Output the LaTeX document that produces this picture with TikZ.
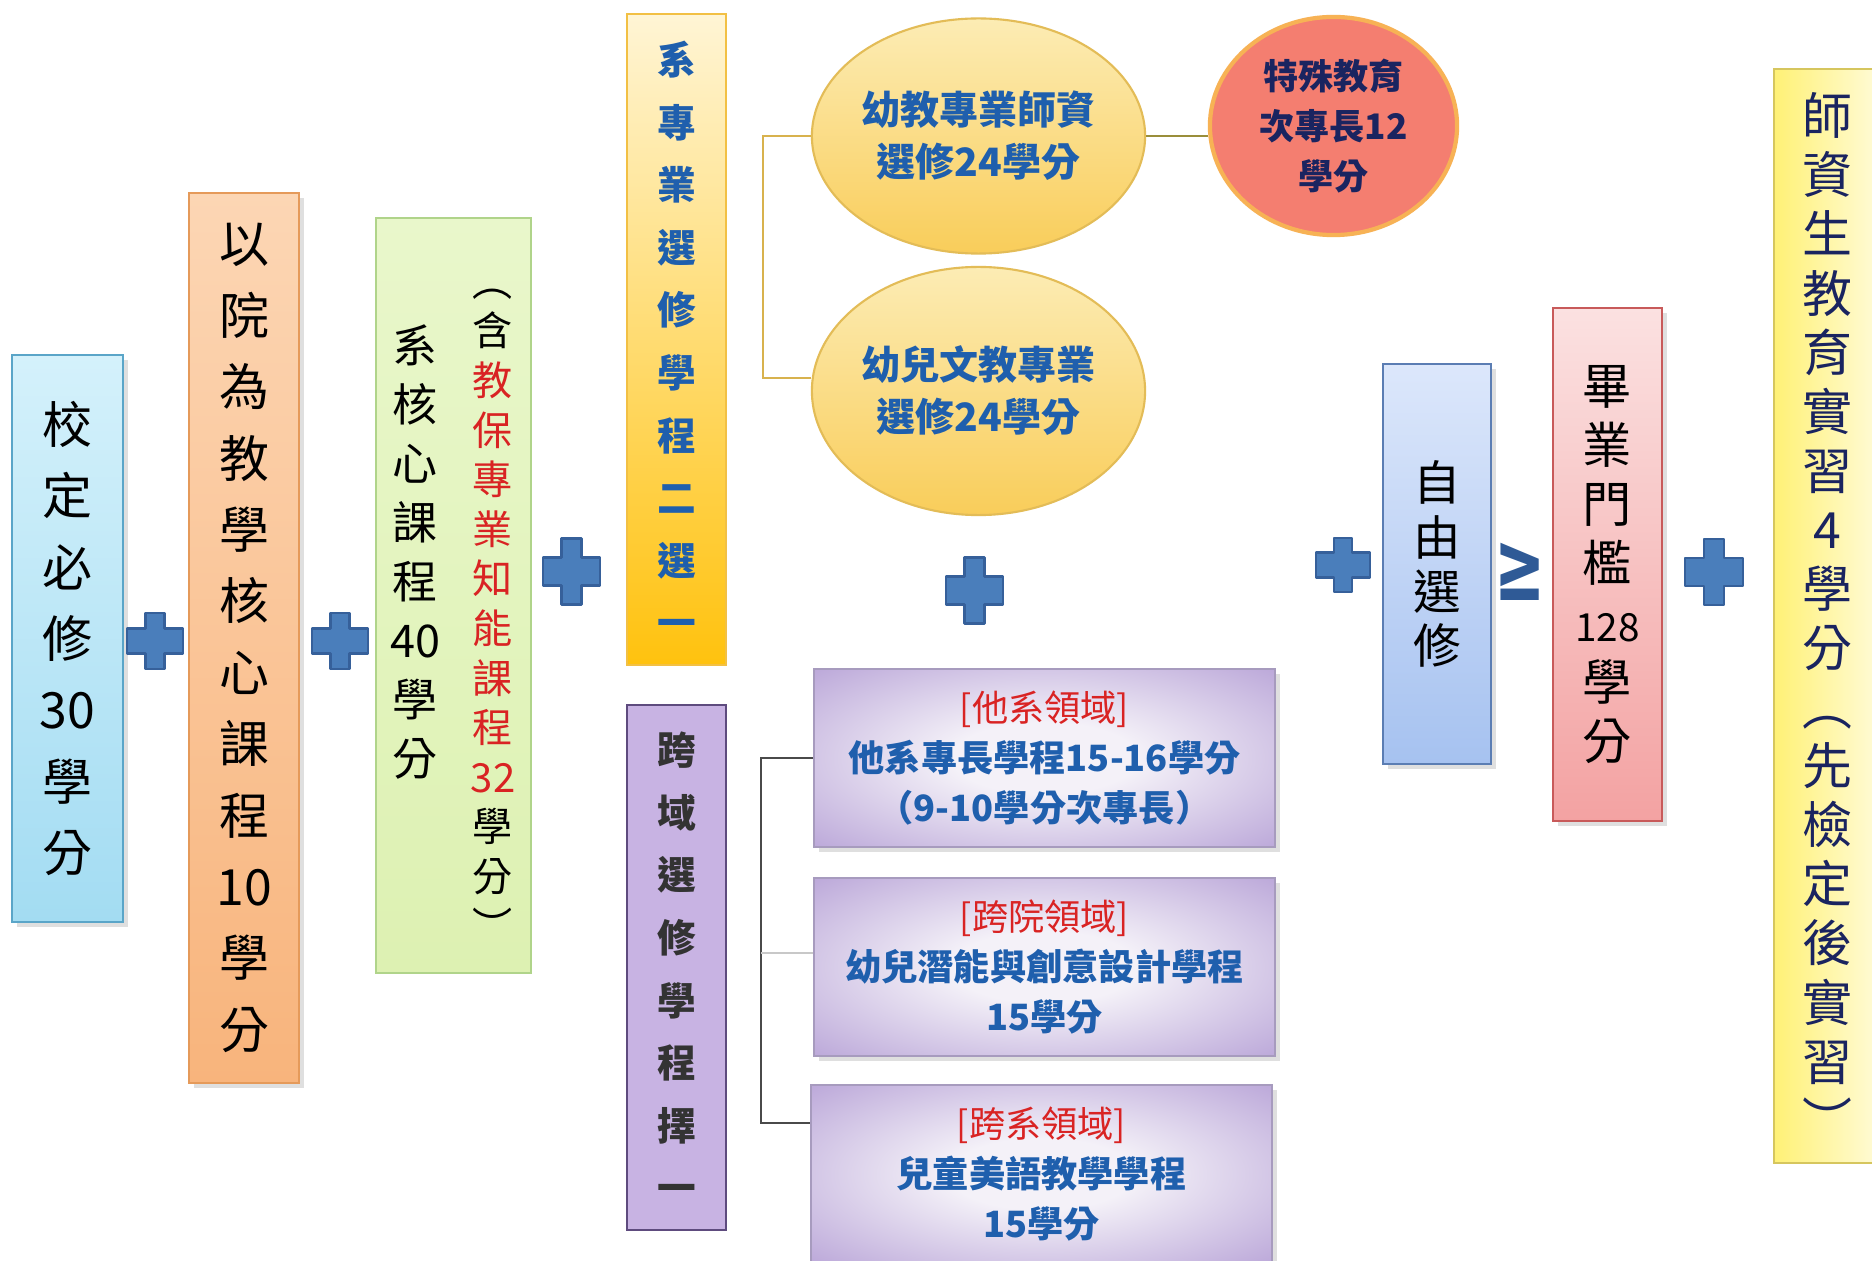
\documentclass[tikz,border=0pt]{standalone}
\usepackage{fontspec}
\usepackage{graphicx}
\usepackage{tikz}
\usetikzlibrary{shapes.geometric,positioning,calc,shadows}
\newfontfamily\cjk{Noto Sans CJK TC}
\newfontfamily\symfont{DejaVu Sans}

\definecolor{cyantop}{HTML}{D4F1FB}
\definecolor{cyanbot}{HTML}{A3DCF2}
\definecolor{cyanline}{HTML}{5AA5C8}
\definecolor{orangetop}{HTML}{FCD6B4}
\definecolor{orangebot}{HTML}{F8B47C}
\definecolor{orangeline}{HTML}{E59A5A}
\definecolor{greentop}{HTML}{E9F7CB}
\definecolor{greenbot}{HTML}{DDF1B2}
\definecolor{greenline}{HTML}{B0D48A}
\definecolor{goldtop}{HTML}{FFF5D5}
\definecolor{goldbot}{HTML}{FFC20E}
\definecolor{goldline}{HTML}{F2C044}
\definecolor{lilac}{HTML}{C8B3E3}
\definecolor{lilacline}{HTML}{5E4B7E}
\definecolor{ovaltop}{HTML}{FCECB4}
\definecolor{ovalbot}{HTML}{F9CD5A}
\definecolor{ovalline}{HTML}{E3BC57}
\definecolor{salmon}{HTML}{F47E70}
\definecolor{salmonline}{HTML}{F7B255}
\definecolor{fieldin}{HTML}{F4F1F8}
\definecolor{fieldout}{HTML}{A990CF}
\definecolor{fieldline}{HTML}{A79BBE}
\definecolor{bluetop}{HTML}{DCE7FB}
\definecolor{bluebot}{HTML}{A6C2F0}
\definecolor{blueline}{HTML}{5B7DB3}
\definecolor{pinktop}{HTML}{FBE1E1}
\definecolor{pinkbot}{HTML}{F3A2A2}
\definecolor{pinkline}{HTML}{C85A5A}
\definecolor{lemonleft}{HTML}{FFF176}
\definecolor{lemonright}{HTML}{FFFBD8}
\definecolor{lemonline}{HTML}{D6C65E}
\definecolor{plusblue}{HTML}{4A7EBB}
\definecolor{plusline}{HTML}{36609A}
\definecolor{txtred}{HTML}{D92323}
\definecolor{txtblue}{HTML}{1F5FAD}
\definecolor{txtgray}{HTML}{333333}
\definecolor{txtnavy}{HTML}{1A2460}
\definecolor{goldwire}{HTML}{D8B24E}
\definecolor{olivewire}{HTML}{9A8E3A}
\definecolor{graywire}{HTML}{4A4A4A}
\definecolor{lightwire}{HTML}{C8C8C8}
\definecolor{geblue}{HTML}{2F5A96}

\pgfdeclareradialshading{fieldglow}{\pgfpoint{0bp}{0bp}}{color(0bp)=(fieldin); color(10bp)=(fieldin); color(44bp)=(fieldout); color(50bp)=(fieldout)}

\newcommand\rd[1]{\textcolor{txtred}{#1}}

\begin{document}
\begin{tikzpicture}[x=0.01cm, y=-0.01cm,
    vbox/.style={rectangle, draw, line width=0.6pt, inner sep=0pt, align=center},
    shade/.style={drop shadow={shadow xshift=0.5mm, shadow yshift=-0.5mm, opacity=0.25}},
    bigtxt/.style={font=\cjk\fontsize{14.2}{20.3}\selectfont},
    kaitxt/.style={font=\cjk\bfseries\fontsize{11}{17.8}\selectfont},
    oval/.style={ellipse, draw=ovalline, line width=0.6pt, top color=ovaltop, bottom color=ovalbot,
        inner sep=0pt, align=center, text=txtblue, font=\cjk\bfseries\fontsize{11.1}{14.8}\selectfont},
    field/.style={rectangle, draw=fieldline, line width=0.4pt, shading=fieldglow,
        inner sep=0pt, align=center, text=txtblue, font=\cjk\bfseries\fontsize{10.3}{14.2}\selectfont,
        minimum width=4.61cm},
    plussign/.style={fill=plusblue, draw=plusline, line width=0.8pt, line join=round}]

    % Canvas
    \fill[white] (0,0) rectangle (1872,1261);
    \useasboundingbox (0,0) rectangle (1872,1261);

    % Compulsory and core courses
    \node[vbox, bigtxt, shade, top color=cyantop, bottom color=cyanbot, draw=cyanline,
        minimum width=1.11cm, minimum height=5.67cm] (school) at (67.5,638.5) {校\\定\\必\\修\\30\\學\\分};
    \node[vbox, bigtxt, shade, top color=orangetop, bottom color=orangebot, draw=orangeline,
        minimum width=1.10cm, minimum height=8.90cm] (college) at (244,638) {以\\院\\為\\教\\學\\核\\心\\課\\程\\10\\學\\分};
    \node[vbox, top color=greentop, bottom color=greenbot, draw=greenline,
        minimum width=1.55cm, minimum height=7.55cm] (dept) at (453.5,595.5) {};
    \node[align=center, inner sep=0pt, font=\cjk\fontsize{12.8}{16.8}\selectfont] (deptl) at (415,552) {系\\核\\心\\課\\程\\40\\學\\分};
    \node[align=center, inner sep=0pt, font=\cjk\fontsize{11.4}{14.1}\selectfont] (deptr) at (493,615)
        {︵\\含\\\rd{教}\\\rd{保}\\\rd{專}\\\rd{業}\\\rd{知}\\\rd{能}\\\rd{課}\\\rd{程}\\\rd{32}\\學\\分\\︶};

    % Elective programme columns
    \node[vbox, kaitxt, text=txtblue, top color=goldtop, bottom color=goldbot, draw=goldline,
        minimum width=0.99cm, minimum height=6.51cm] (major) at (676.5,339.5) {系\\專\\業\\選\\修\\學\\程\\二\\選\\一};
    \node[vbox, kaitxt, text=txtgray, fill=lilac, draw=lilacline,
        minimum width=0.99cm, minimum height=5.25cm] (crossfield) at (676.5,967.5) {跨\\域\\選\\修\\學\\程\\擇\\一};

    % Major programmes
    \node[oval, minimum width=3.33cm, minimum height=2.35cm] (kgteach) at (978.5,136) {幼教專業師資\\選修24學分};
    \node[oval, minimum width=3.33cm, minimum height=2.48cm] (kglit) at (978.5,391) {幼兒文教專業\\選修24學分};
    \node[ellipse, fill=salmon, draw=salmonline, line width=1.2pt, inner sep=0pt, align=center,
        minimum width=2.47cm, minimum height=2.18cm, text=txtnavy,
        font=\cjk\bfseries\fontsize{10}{14.2}\selectfont] (special) at (1333.5,126) {特殊教育\\次專長12\\學分};

    % Cross-field programmes
    \node[field, shade, minimum height=1.78cm] (otherdept) at (1044.5,758)
        {\textcolor{txtred}{\mdseries[他系領域]}\\他系專長學程15-16學分\\（9-10學分次專長）};
    \node[field, shade, minimum height=1.78cm] (potential) at (1044.5,967)
        {\textcolor{txtred}{\mdseries[跨院領域]}\\幼兒潛能與創意設計學程\\15學分};
    \node[field, shade, minimum height=1.78cm] (kidesl) at (1041.5,1174)
        {\textcolor{txtred}{\mdseries[跨系領域]}\\兒童美語教學學程\\15學分};

    % Free electives and threshold
    \node[vbox, shade, font=\cjk\fontsize{13.5}{15.4}\selectfont, top color=bluetop, bottom color=bluebot, draw=blueline,
        minimum width=1.08cm, minimum height=4.00cm] (free) at (1437,564) {自\\由\\選\\修};
    \node[text=geblue, inner sep=0pt, font=\symfont\bfseries\fontsize{28}{28}\selectfont] (geq) at (1520,572) {\scalebox{0.62}[1]{≥}};
    \node[vbox, shade, font=\cjk\fontsize{14}{16.8}\selectfont, top color=pinktop, bottom color=pinkbot, draw=pinkline,
        minimum width=1.09cm, minimum height=5.13cm] (grad) at (1607.5,564.5)
        {畢\\業\\門\\檻\\{\fontsize{11}{16.8}\selectfont 128}\\學\\分};

    % Teaching practicum
    \node[vbox, font=\cjk\fontsize{14.2}{16.8}\selectfont, text=txtnavy, left color=lemonleft, right color=lemonright,
        draw=lemonline, minimum width=1.06cm, minimum height=10.94cm] (practicum) at (1827,616)
        {師\\資\\生\\教\\育\\實\\習\\4\\學\\分\\︵\\先\\檢\\定\\後\\實\\習\\︶};

    % Brackets
    \draw[goldwire, line width=0.5pt] (kgteach.west) -- ++(-48,0) |- ($(kglit.west)+(0,-13)$);
    \draw[olivewire, line width=0.5pt] (kgteach.east) -- (kgteach.east -| special.west);
    \draw[graywire, line width=0.6pt] (otherdept.west) -- ++(-52,0) |- ($(kidesl.north west)+(0,39)$);
    \coordinate (spine) at ($(otherdept.west)+(-52,195)$);
    \draw[lightwire, line width=0.5pt] (spine) -- (spine -| potential.west);

    % Plus signs
    \foreach \cx/\cy/\hx/\hy/\sx/\sy in {155/641/28/28/9.5/12.5, 340/641/28/28/9.5/12.5, 571.5/571.5/28.5/33/10/14,
        974.5/590.5/28.5/33/10/14, 1343/565/27/27/9/12.5, 1714/572/29/33/10/14}
        \draw[plussign] ({\cx-\sx},{\cy-\hy}) -- ({\cx+\sx},{\cy-\hy}) -- ({\cx+\sx},{\cy-\sy}) -- ({\cx+\hx},{\cy-\sy})
            -- ({\cx+\hx},{\cy+\sy}) -- ({\cx+\sx},{\cy+\sy}) -- ({\cx+\sx},{\cy+\hy}) -- ({\cx-\sx},{\cy+\hy})
            -- ({\cx-\sx},{\cy+\sy}) -- ({\cx-\hx},{\cy+\sy}) -- ({\cx-\hx},{\cy-\sy}) -- ({\cx-\sx},{\cy-\sy}) -- cycle;

\end{tikzpicture}
\end{document}
